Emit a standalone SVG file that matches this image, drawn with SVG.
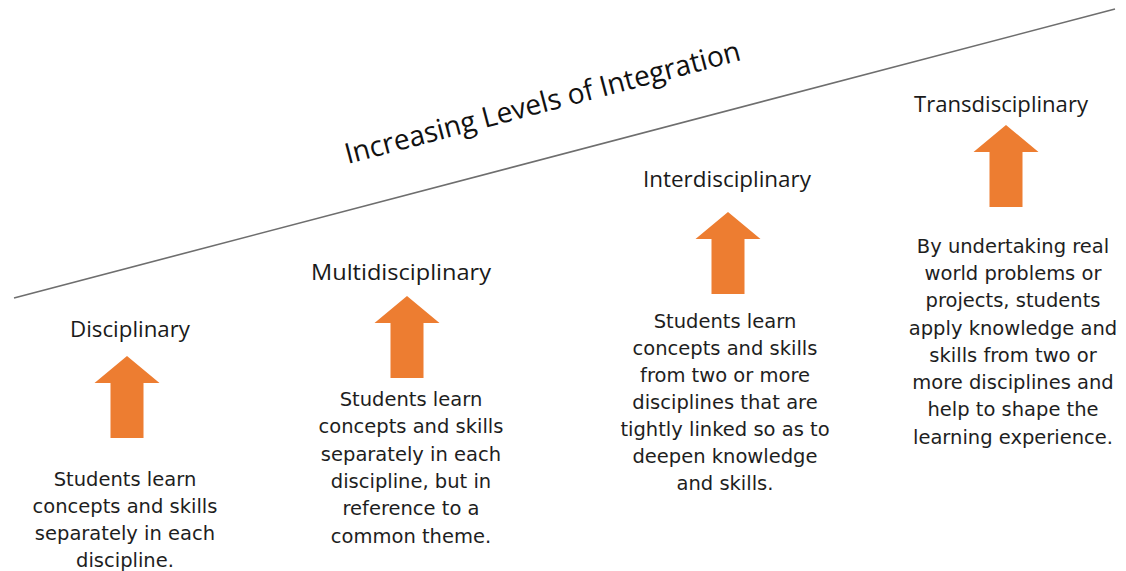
<svg xmlns="http://www.w3.org/2000/svg" width="1126" height="571" viewBox="0 0 1126 571">
<style>
.bg{fill:#ffffff}
.axis{stroke:#6e6e6e;stroke-width:1.6;fill:none}
.arrow{fill:#ED7D31}
.title{font-family:"Open Sans","Liberation Sans",sans-serif;font-size:28.5px;fill:#111111}
.label{font-family:"Open Sans","Liberation Sans",sans-serif;font-size:21px;fill:#1a1a1a;text-anchor:middle}
.body{font-family:"DejaVu Sans","Liberation Sans",sans-serif;font-size:19.5px;fill:#1e1e1e;text-anchor:middle}
</style>
<defs>
<path id="up" d="M0,0 L32.5,27 L16.5,27 L16.5,82 L-16.5,82 L-16.5,27 L-32.5,27 Z"/>
</defs>
<rect class="bg" x="0" y="0" width="1126" height="571"/>
<g id="connectors">
<line class="axis" x1="14" y1="298" x2="1115" y2="9"/>
</g>
<g id="title">
<text class="title" x="545" y="112" text-anchor="middle" transform="rotate(-14.8 545 112)" textLength="408" lengthAdjust="spacingAndGlyphs">Increasing Levels of Integration</text>
</g>
<g id="disciplinary">
<text class="label" x="130" y="337" textLength="120" lengthAdjust="spacingAndGlyphs">Disciplinary</text>
<use href="#up" class="arrow" x="127" y="356"/>
<text class="body"><tspan x="125" y="486">Students learn</tspan><tspan x="125" y="513">concepts and skills</tspan><tspan x="125" y="540">separately in each</tspan><tspan x="125" y="567">discipline.</tspan></text>
</g>
<g id="multidisciplinary">
<text class="label" x="401" y="280" textLength="180" lengthAdjust="spacingAndGlyphs">Multidisciplinary</text>
<use href="#up" class="arrow" x="407" y="296"/>
<text class="body"><tspan x="411" y="406">Students learn</tspan><tspan x="411" y="433">concepts and skills</tspan><tspan x="411" y="461">separately in each</tspan><tspan x="411" y="488">discipline, but in</tspan><tspan x="411" y="515">reference to a</tspan><tspan x="411" y="543">common theme.</tspan></text>
</g>
<g id="interdisciplinary">
<text class="label" x="727" y="187" textLength="168" lengthAdjust="spacingAndGlyphs">Interdisciplinary</text>
<use href="#up" class="arrow" x="728" y="212"/>
<text class="body"><tspan x="725" y="328">Students learn</tspan><tspan x="725" y="355">concepts and skills</tspan><tspan x="725" y="382">from two or more</tspan><tspan x="725" y="409">disciplines that are</tspan><tspan x="725" y="436">tightly linked so as to</tspan><tspan x="725" y="463">deepen knowledge</tspan><tspan x="725" y="490">and skills.</tspan></text>
</g>
<g id="transdisciplinary">
<text class="label" x="1001" y="112" textLength="174" lengthAdjust="spacingAndGlyphs">Transdisciplinary</text>
<use href="#up" class="arrow" x="1006" y="125"/>
<text class="body"><tspan x="1013" y="253">By undertaking real</tspan><tspan x="1013" y="280">world problems or</tspan><tspan x="1013" y="307">projects, students</tspan><tspan x="1013" y="335">apply knowledge and</tspan><tspan x="1013" y="362">skills from two or</tspan><tspan x="1013" y="389">more disciplines and</tspan><tspan x="1013" y="416">help to shape the</tspan><tspan x="1013" y="444">learning experience.</tspan></text>
</g>
</svg>
